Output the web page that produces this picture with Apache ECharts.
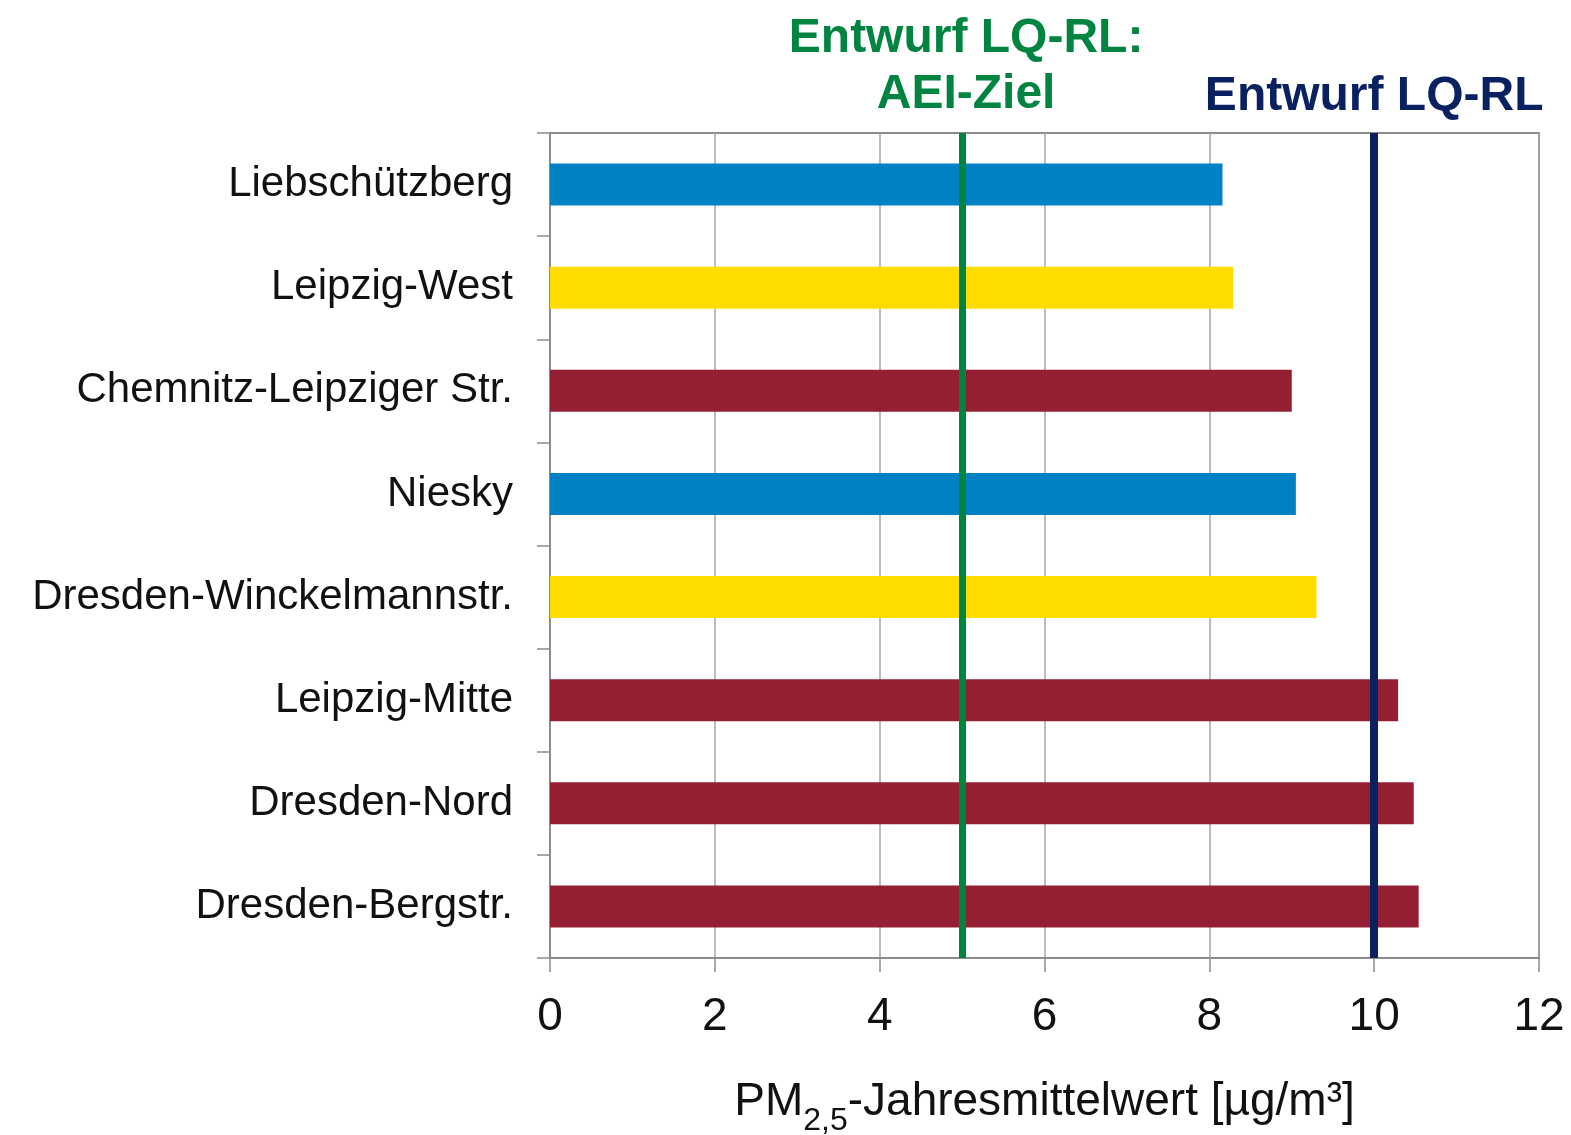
<!DOCTYPE html>
<html>
<head>
<meta charset="utf-8">
<script src="https://cdn.jsdelivr.net/npm/echarts@6/dist/echarts.min.js"></script>
<style>
html, body { margin: 0; padding: 0; background: #fff; }
#main { width: 1571px; height: 1135px; }
</style>
</head>
<body>
<div id="main"></div>
<script>
// Messstationen (von oben nach unten)
var stations = ["Liebschützberg", "Leipzig-West", "Chemnitz-Leipziger Str.", "Niesky",
  "Dresden-Winckelmannstr.", "Leipzig-Mitte", "Dresden-Nord", "Dresden-Bergstr."];
// PM2,5-Jahresmittelwert in µg/m³
var values = [8.16, 8.29, 9.0, 9.05, 9.3, 10.29, 10.48, 10.54];
// Stationstyp: laendlich / staedtisch / verkehrsnah
var stationType = ["rural", "urban", "traffic", "rural", "urban", "traffic", "traffic", "traffic"];
var xTicks = [0, 2, 4, 6, 8, 10, 12];
// Grenzwerte
var aeiZiel = 5;
var lqrlWert = 10;

var typeColor = { rural: "#0081C6", urban: "#FFDD00", traffic: "#951F32" };
var font = "'Liberation Sans', Arial, sans-serif";

var myChart = echarts.init(document.getElementById("main"), null, { renderer: "canvas" });

myChart.setOption({
  animation: false,
  backgroundColor: "#fff",
  grid: {
    left: 550, right: 32, top: 133, bottom: 177,
    outerBoundsMode: "none",
    show: true, borderColor: "#8c8c8c", borderWidth: 2, backgroundColor: "transparent"
  },
  xAxis: {
    type: "value",
    min: xTicks[0],
    max: xTicks[xTicks.length - 1],
    interval: 2,
    axisLine: { show: true, lineStyle: { color: "#8c8c8c", width: 2 } },
    axisTick: { show: true, length: 14, lineStyle: { color: "#8c8c8c", width: 1.5 } },
    splitLine: { show: true, lineStyle: { color: "#a6a6a6", width: 1.5 } },
    axisLabel: { fontSize: 46, color: "#111", fontFamily: font, margin: 36 },
    name: "{a|PM}{s|2,5}{a|-Jahresmittelwert [µg/m³]}",
    nameLocation: "middle",
    nameGap: 121,
    nameTextStyle: {
      rich: {
        a: { fontSize: 46, color: "#111", fontFamily: font, lineHeight: 50, verticalAlign: "top" },
        s: { fontSize: 32, color: "#111", fontFamily: font, lineHeight: 20, verticalAlign: "top", padding: [26, 0, 0, 0] }
      }
    }
  },
  yAxis: {
    type: "category",
    inverse: true,
    data: stations,
    axisLine: { show: true, lineStyle: { color: "#8c8c8c", width: 2 } },
    axisTick: { show: true, length: 13, lineStyle: { color: "#8c8c8c", width: 1.5 } },
    axisLabel: { fontSize: 42, color: "#111", fontFamily: font, margin: 37 }
  },
  series: [
    {
      type: "bar",
      barWidth: 42,
      data: values.map(function (v, i) {
        return { value: v, itemStyle: { color: typeColor[stationType[i]] } };
      }),
      markLine: {
        silent: true,
        symbol: "none",
        data: [
          {
            xAxis: aeiZiel,
            lineStyle: { color: "#00843F", width: 7, type: "solid" },
            label: {
              show: true, position: "start", distance: 10,
              formatter: "Entwurf LQ-RL:\nAEI-Ziel",
              color: "#00843F", fontSize: 48, fontWeight: "bold", fontFamily: font,
              lineHeight: 56, align: "center", padding: [0, 0, 0, 8]
            }
          },
          {
            xAxis: lqrlWert,
            lineStyle: { color: "#0A2161", width: 8, type: "solid" },
            label: {
              show: true, position: "start", distance: 8,
              formatter: "Entwurf LQ-RL",
              color: "#0A2161", fontSize: 48, fontWeight: "bold", fontFamily: font,
              lineHeight: 56, align: "center"
            }
          }
        ]
      }
    }
  ]
});
</script>
</body>
</html>
